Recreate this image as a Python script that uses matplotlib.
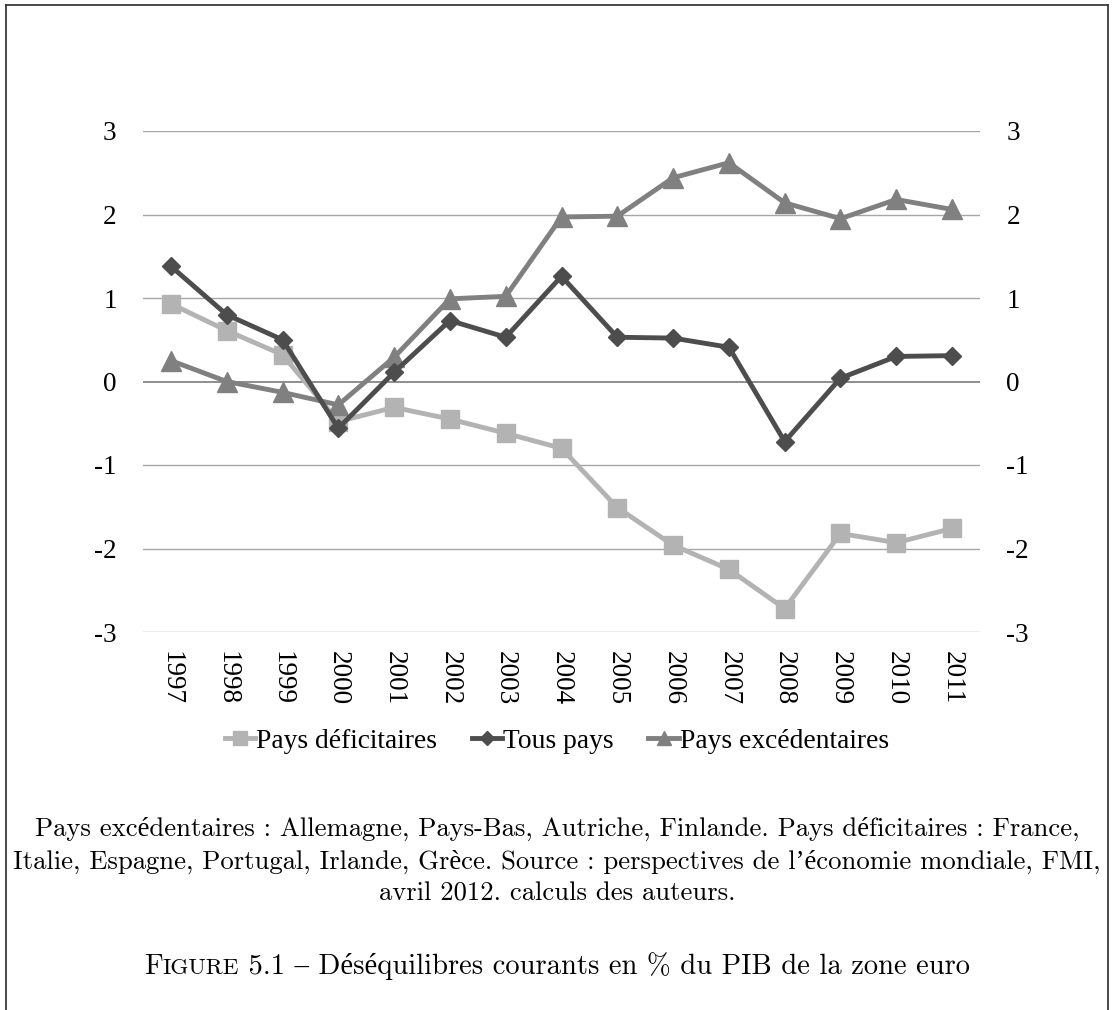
import matplotlib
matplotlib.use("Agg")
import matplotlib.pyplot as plt
from matplotlib.lines import Line2D
import numpy as np

years = ["1997", "1998", "1999", "2000", "2001", "2002", "2003", "2004",
         "2005", "2006", "2007", "2008", "2009", "2010", "2011"]
deficit = [0.93, 0.61, 0.32, -0.48, -0.31, -0.45, -0.62, -0.80,
           -1.51, -1.96, -2.25, -2.72, -1.82, -1.93, -1.76]
tous = [1.38, 0.80, 0.50, -0.56, 0.11, 0.73, 0.53, 1.26,
        0.53, 0.52, 0.41, -0.72, 0.04, 0.30, 0.31]
excedent = [0.25, 0.00, -0.13, -0.28, 0.29, 0.99, 1.02, 1.97,
            1.98, 2.44, 2.62, 2.14, 1.95, 2.18, 2.06]
yticks = [-3, -2, -1, 0, 1, 2, 3]
series_names = ["Pays déficitaires", "Tous pays", "Pays excédentaires"]
note_lines = [
    "Pays excédentaires : Allemagne, Pays-Bas, Autriche, Finlande. Pays déficitaires : France,",
    "Italie, Espagne, Portugal, Irlande, Grèce. Source : perspectives de l’économie mondiale, FMI,",
    "avril 2012. calculs des auteurs.",
]

W, H = 1114, 1010
fig = plt.figure(figsize=(W / 100, H / 100), dpi=100)
serif = ["Liberation Serif", "DejaVu Serif"]
cm = ["cmr10", "Liberation Serif", "DejaVu Serif"]

ax = fig.add_axes([143 / W, 1 - 632 / H, (980 - 143) / W, (632 - 131) / H])
x = np.arange(len(years))
ax.set_xlim(-0.5, len(years) - 0.5)
ax.set_ylim(-3, 3)

for yv in yticks:
    if yv != 0:
        ax.axhline(yv, color="#a6a6a6", lw=1.0, zorder=1)
ax.axhline(0, color="#868686", lw=1.3, zorder=1)

ax.plot(x, deficit, color="#b3b3b3", lw=3.5, marker="s", ms=13.5,
        label=series_names[0], zorder=3)
ax.plot(x, tous, color="#4d4d4d", lw=3.5, marker="D", ms=9.5,
        label=series_names[1], zorder=4)
ax.plot(x, excedent, color="#808080", lw=3.5, marker="^", ms=14,
        label=series_names[2], zorder=3)

for s in ax.spines.values():
    s.set_visible(False)
ax.set_yticks(yticks)
ax.set_yticklabels([str(v) for v in yticks], family=serif, fontsize=19.5)
ax.set_xticks(x)
ax.set_xticklabels(years, rotation=-90, family=serif, fontsize=19.5)
ax.tick_params(axis="y", length=0, pad=19)
ax.tick_params(axis="x", length=0, pad=14)

ax2 = ax.twinx()
ax2.set_ylim(-3, 3)
ax2.set_yticks(yticks)
ax2.set_yticklabels([str(v) for v in yticks], family=serif, fontsize=19.5)
ax2.tick_params(axis="y", length=0, pad=19)
for s in ax2.spines.values():
    s.set_visible(False)

leg = ax.legend(loc="center", bbox_to_anchor=(0.5, 1 - 741 / H),
                bbox_transform=fig.transFigure, ncol=3, frameon=False,
                prop={"family": serif, "size": 19.8}, handlelength=1.1,
                handletextpad=0.05, columnspacing=1.25, borderpad=0,
                markerscale=0.72)

# frame
fc = "#3c3c3c"
fig.add_artist(Line2D([6 / W, 1108 / W], [1 - 5 / H, 1 - 5 / H], color=fc, lw=1.3, transform=fig.transFigure))
fig.add_artist(Line2D([6 / W, 6 / W], [1 - 5 / H, 0], color=fc, lw=1.3, transform=fig.transFigure))
fig.add_artist(Line2D([1108 / W, 1108 / W], [1 - 5 / H, 0], color=fc, lw=1.3, transform=fig.transFigure))

for i, (line, yy) in enumerate(zip(note_lines, [829, 862, 894])):
    fig.text(0.5, 1 - yy / H, line, ha="center", va="center", family=cm, fontsize=19.2)

# caption with small caps
fig.canvas.draw()
r = fig.canvas.get_renderer()
parts = [("F", 20.6), ("IGURE", 16.6), (" 5.1 – Déséquilibres courants en % du PIB de la zone euro", 20.6)]
arts = []
for t, fs in parts:
    a = fig.text(0, 1 - 974 / H, t, ha="left", va="baseline", family=cm, fontsize=fs)
    arts.append(a)
widths = [a.get_window_extent(r).width for a in arts]
total = sum(widths)
xpos = (W - total) / 2
for a, w in zip(arts, widths):
    a.set_x(xpos / W)
    xpos += w

fig.savefig("out.png", dpi=100)
